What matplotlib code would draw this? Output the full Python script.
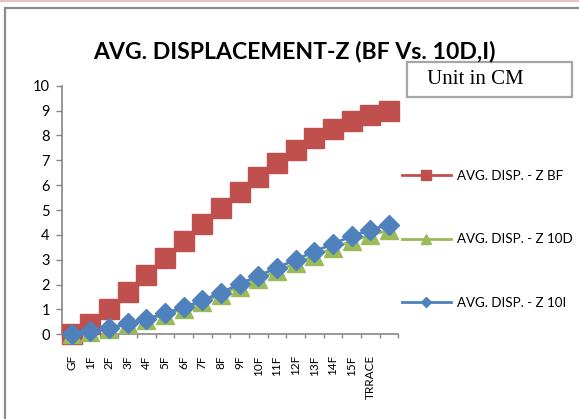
import matplotlib
matplotlib.use("Agg")
import matplotlib.pyplot as plt
from matplotlib.patches import Rectangle
from matplotlib.lines import Line2D
import numpy as np

# ── data ─────────────────────────────────────────────────────────────────────

floors = ["GF", "1F", "2F", "3F", "4F", "5F", "6F", "7F", "8F", "9F",
          "10F", "11F", "12F", "13F", "14F", "15F", "TRRACE", ""]

disp_bf = [0.0, 0.43, 1.02, 1.69, 2.39, 3.07, 3.74, 4.42, 5.09, 5.72,
           6.31, 6.89, 7.42, 7.88, 8.26, 8.59, 8.81, 8.97]
disp_10d = [0.0, 0.10, 0.22, 0.40, 0.57, 0.79, 1.02, 1.30, 1.58, 1.91,
            2.23, 2.54, 2.85, 3.16, 3.46, 3.75, 3.99, 4.19]
disp_10i = [0.0, 0.13, 0.25, 0.44, 0.61, 0.84, 1.08, 1.37, 1.67, 2.03,
            2.35, 2.68, 3.00, 3.33, 3.64, 3.95, 4.20, 4.41]

series_labels = ["AVG. DISP. - Z BF", "AVG. DISP. - Z 10D", "AVG. DISP. - Z 10I"]
y_ticks = [0, 1, 2, 3, 4, 5, 6, 7, 8, 9, 10]

RED, GREEN, BLUE = "#C0504D", "#9BBB59", "#4F81BD"
AXIS_GRAY = "#868686"

plt.rcParams["font.family"] = ["Lato", "DejaVu Sans"]

W, H = 579, 419
fig = plt.figure(figsize=(W / 100, H / 100), dpi=100)

# chart-area frame and the faint pink line along the top edge
fig.add_artist(Rectangle((5 / W, -0.1), 1.2, 1.1 - 8.5 / H, transform=fig.transFigure,
                         fill=False, edgecolor="#8c8c8c", linewidth=1.6))
fig.add_artist(Line2D([0, 1], [1 - 0.8 / H, 1 - 0.8 / H], transform=fig.transFigure,
                      color="#e8b4b4", linewidth=1.2))

ax = fig.add_axes([62.3 / W, 1 - 334.3 / H, 336 / W, 248.6 / H])

x = np.arange(len(floors))
ax.plot(x, disp_bf, color=RED, marker="s", markersize=14, linewidth=2,
        label=series_labels[0], clip_on=False, zorder=3)
ax.plot(x, disp_10d, color=GREEN, marker="^", markersize=13, linewidth=2,
        label=series_labels[1], clip_on=False, zorder=4)
ax.plot(x, disp_10i, color=BLUE, marker="D", markersize=10, linewidth=2,
        label=series_labels[2], clip_on=False, zorder=5)

ax.set_xlim(-0.5, len(floors) - 0.5)
ax.set_ylim(0, 10)
ax.set_yticks(y_ticks)

# category boundaries get the tick marks, labels sit in between
ax.set_xticks(np.arange(-0.5, len(floors), 1))
ax.set_xticklabels([])
ax.set_xticks(x, minor=True)
ax.set_xticklabels(floors, minor=True, rotation=90, fontsize=8.5)
ax.tick_params(axis="x", which="major", direction="out", length=3,
               width=1, color=AXIS_GRAY)
ax.tick_params(axis="x", which="minor", length=0, pad=15)
ax.tick_params(axis="y", direction="out", length=4, width=1, color=AXIS_GRAY,
               pad=5, labelsize=10.5)

ax.spines[["top", "right"]].set_visible(False)
for side in ["left", "bottom"]:
    ax.spines[side].set_color(AXIS_GRAY)
    ax.spines[side].set_linewidth(1.2)

fig.text(294.5 / W, 1 - 51 / H, "AVG. DISPLACEMENT-Z (BF Vs. 10D,I)",
         ha="center", va="center", fontsize=16.6, fontweight="bold")

# "Unit in CM" box
fig.add_artist(Rectangle((406.7 / W, 1 - 96.7 / H), 165 / W, 34.4 / H,
                         transform=fig.transFigure, fill=False,
                         edgecolor="#a6a6a6", linewidth=1.6))
fig.text(475.5 / W, 1 - 80 / H, "Unit in CM", ha="center", va="center",
         fontsize=15, family="Liberation Serif")

ax.legend(loc="upper left", bbox_to_anchor=(401.7 / W, 1 - 170 / H),
          bbox_transform=fig.transFigure, frameon=False, fontsize=9.6,
          handlelength=3.7, handletextpad=0.45, labelspacing=3.85,
          borderpad=0, borderaxespad=0, markerscale=0.55)

fig.savefig("out.png", dpi=100)
